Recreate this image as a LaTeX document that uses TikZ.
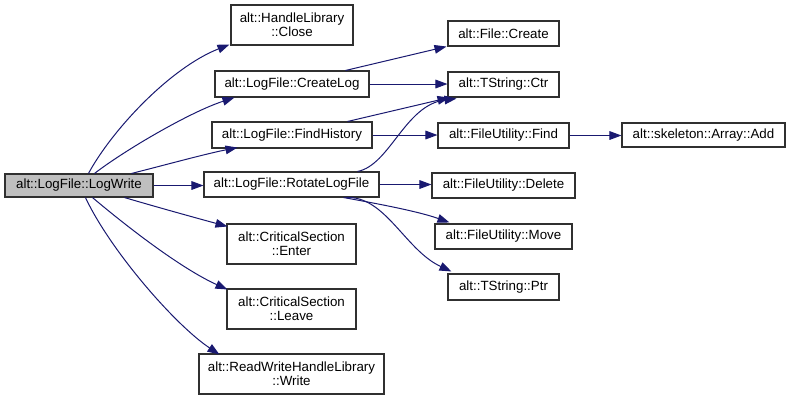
\documentclass[tikz,border=0pt]{standalone}
\usepackage{fontspec}
\setmainfont{Liberation Sans}
\usetikzlibrary{arrows.meta,calc}
\definecolor{edgeblue}{HTML}{191970}
\definecolor{boxgray}{HTML}{BFBFBF}
\definecolor{boxline}{HTML}{303030}
\begin{document}
\begin{tikzpicture}[x=0.75pt,y=-0.75pt,
  fn/.style 2 args={draw=boxline, line width=0.8pt, fill=white, inner sep=0pt,
    align=center, font=\fontsize{10}{10.5}\selectfont,
    minimum width=#1*0.75pt, minimum height=#2*0.75pt},
  cur/.style={fill=boxgray},
  call/.style={draw=edgeblue, line width=0.75pt, -{Triangle[length=9pt,width=6.5pt]}}]
\useasboundingbox (0,0) rectangle (791,401);
% nodes
\node[fn={148}{23}, cur] (lw) at (79,185.5) {alt::LogFile::LogWrite};
\node[fn={122}{40}] (close) at (292,25) {alt::HandleLibrary\\::Close};
\node[fn={154}{26}] (clog) at (292,84) {alt::LogFile::CreateLog};
\node[fn={160}{26}] (fh) at (292,135) {alt::LogFile::FindHistory};
\node[fn={175}{25}] (rot) at (291.5,184.5) {alt::LogFile::RotateLogFile};
\node[fn={129}{40}] (enter) at (291.5,244) {alt::CriticalSection\\::Enter};
\node[fn={129}{40}] (leave) at (291.5,309) {alt::CriticalSection\\::Leave};
\node[fn={185}{40}] (rw) at (291.5,374) {alt::ReadWriteHandleLibrary\\::Write};
\node[fn={111}{25}] (fcreate) at (503.5,33.5) {alt::File::Create};
\node[fn={111}{25}] (ctr) at (503.5,84.5) {alt::TString::Ctr};
\node[fn={131}{25}] (find) at (503.5,135.5) {alt::FileUtility::Find};
\node[fn={143}{25}] (del) at (503.5,185.5) {alt::FileUtility::Delete};
\node[fn={137}{25}] (move) at (503.5,236.5) {alt::FileUtility::Move};
\node[fn={111}{26}] (ptr) at (503.5,287) {alt::TString::Ptr};
\node[fn={163}{24}] (add) at (703.5,135) {alt::skeleton::Array::Add};
% edges from LogWrite
\draw[call] ($(lw.north west)+(84,0)$) .. controls (112,130) and (170,68) .. ($(close.south west)+(-1,-1)$);
\draw[call] ($(lw.north west)+(90,0)$) .. controls (125,150) and (190,112) .. ($(clog.south west)+(20,0)$);
\draw[call] ($(lw.north west)+(127,0)$) .. controls (165,165) and (205,154) .. ($(fh.south west)+(26,-1)$);
\draw[call] (lw.east) -- (lw.east -| rot.west);
\draw[call] ($(lw.south west)+(120,0)$) .. controls (160,208) and (200,219) .. ($(enter.north west)+(1,3)$);
\draw[call] ($(lw.south west)+(88,0)$) .. controls (125,225) and (180,268) .. ($(leave.north west)+(1,1)$);
\draw[call] ($(lw.south west)+(81,0)$) .. controls (110,250) and (175,325) .. ($(rw.north west)+(21,1)$);
% second level
\draw[call] ($(clog.north east)+(-24,0)$) -- ($(fcreate.south west)+(-1,0)$);
\draw[call] (clog.east) -- (clog.east -| ctr.west);
\draw[call] ($(fh.north east)+(-25,0)$) -- ($(ctr.south west)+(2,0)$);
\draw[call] (fh.east) -- (fh.east -| find.west);
\draw[call] ($(rot.north east)+(-22,0)$) .. controls (390,165) and (405,105) .. ($(ctr.south west)+(9,1)$);
\draw[call] (rot.east) -- (rot.east -| del.west);
\draw[call] ($(rot.south east)+(-36,0)$) .. controls (385,205) and (420,212) .. ($(move.north west)+(15,-1)$);
\draw[call] ($(rot.south east)+(-34,0)$) .. controls (385,195) and (405,250) .. ($(ptr.north west)+(4,-2)$);
\draw[call] (find.east) -- (find.east -| add.west);
\end{tikzpicture}
\end{document}
